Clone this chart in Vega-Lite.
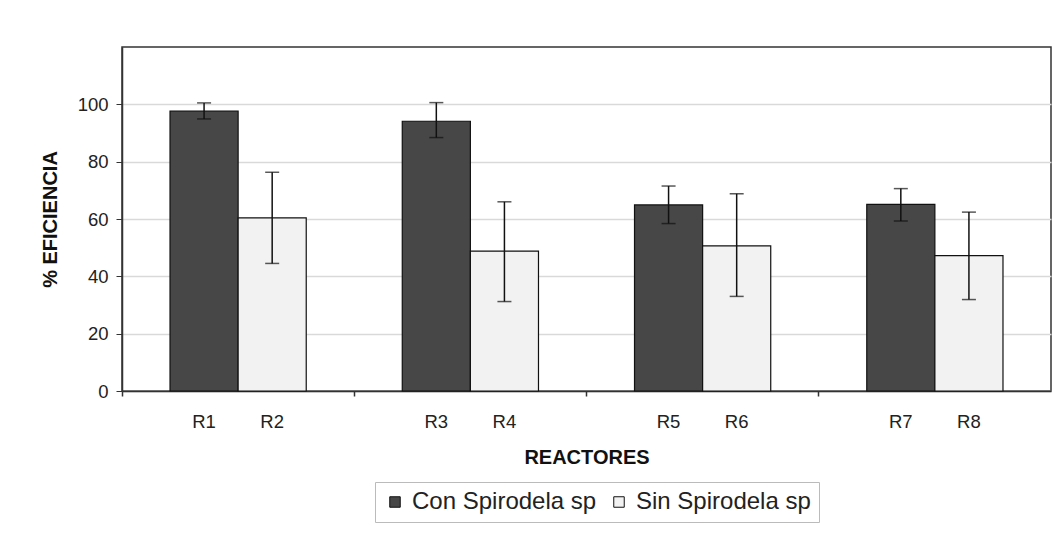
{
  "$schema": "https://vega.github.io/schema/vega-lite/v6.json",
  "width": 929,
  "height": 344,
  "autosize": {"type": "none"},
  "padding": {"left": 122, "top": 47, "right": 10, "bottom": 150},
  "background": "white",
  "config": {"font": "Liberation Sans", "view": {"stroke": "#333", "strokeWidth": 1.5}},
  "data": {
    "values": [
      {"reactor": "R1", "group": "G1", "serie": "Con Spirodela sp", "value": 97.6, "lo": 94.9, "hi": 100.5},
      {"reactor": "R2", "group": "G1", "serie": "Sin Spirodela sp", "value": 60.4, "lo": 44.5, "hi": 76.3},
      {"reactor": "R3", "group": "G2", "serie": "Con Spirodela sp", "value": 94.1, "lo": 88.4, "hi": 100.6},
      {"reactor": "R4", "group": "G2", "serie": "Sin Spirodela sp", "value": 48.8, "lo": 31.2, "hi": 66.0},
      {"reactor": "R5", "group": "G3", "serie": "Con Spirodela sp", "value": 64.9, "lo": 58.4, "hi": 71.5},
      {"reactor": "R6", "group": "G3", "serie": "Sin Spirodela sp", "value": 50.6, "lo": 33.0, "hi": 68.8},
      {"reactor": "R7", "group": "G4", "serie": "Con Spirodela sp", "value": 65.1, "lo": 59.3, "hi": 70.6},
      {"reactor": "R8", "group": "G4", "serie": "Sin Spirodela sp", "value": 47.2, "lo": 31.9, "hi": 62.4}
    ]
  },
  "encoding": {
    "x": {
      "field": "group", "type": "nominal",
      "scale": {"paddingInner": 0, "paddingOuter": 0},
      "axis": {"labels": false, "title": "REACTORES", "bandPosition": 0, "tickSize": 5, "tickColor": "#333", "tickWidth": 1.5, "domainColor": "#333", "domainWidth": 1.5, "titleFontSize": 20, "titleFontWeight": "bold", "titlePadding": 51, "titleColor": "#111", "grid": false}
    },
    "xOffset": {
      "field": "serie", "type": "nominal",
      "scale": {"domain": ["Con Spirodela sp", "Sin Spirodela sp"], "paddingInner": 0, "paddingOuter": 0.705}
    }
  },
  "layer": [
    {
      "mark": {"type": "bar", "stroke": "#111", "strokeWidth": 1.2},
      "encoding": {
        "y": {
          "field": "value", "type": "quantitative", "title": "% EFICIENCIA",
          "scale": {"domain": [0, 120], "nice": false},
          "axis": {"values": [0, 20, 40, 60, 80, 100], "grid": true, "gridColor": "#d9d9d9", "gridWidth": 1.5, "tickSize": 6, "tickColor": "#333", "domainColor": "#333", "domainWidth": 1.5, "labelFontSize": 18.5, "labelPadding": 8, "labelColor": "#222", "titleFontSize": 20, "titleFontWeight": "bold", "titlePadding": 17, "titleColor": "#111"}
        },
        "color": {
          "field": "serie", "type": "nominal",
          "scale": {"domain": ["Con Spirodela sp", "Sin Spirodela sp"], "range": ["#474747", "#f2f2f2"]},
          "legend": {"orient": "none", "legendX": 253, "legendY": 435, "direction": "horizontal", "columns": 2, "title": null, "labelFontSize": 24, "labelLimit": 400, "labelColor": "#222", "symbolType": "square", "symbolSize": 110, "symbolStrokeColor": "#111", "symbolStrokeWidth": 1, "labelOffset": 5, "columnPadding": 10, "padding": 8, "strokeColor": "#bbb", "fillColor": "white"}
        }
      }
    },
    {
      "mark": {"type": "rule", "color": "#111", "strokeWidth": 1.5},
      "encoding": {"y": {"field": "lo", "type": "quantitative", "title": "% EFICIENCIA"}, "y2": {"field": "hi"}}
    },
    {
      "mark": {"type": "tick", "color": "#111", "thickness": 1.5, "size": 14},
      "encoding": {"y": {"field": "lo", "type": "quantitative", "title": "% EFICIENCIA"}}
    },
    {
      "mark": {"type": "tick", "color": "#111", "thickness": 1.5, "size": 14},
      "encoding": {"y": {"field": "hi", "type": "quantitative", "title": "% EFICIENCIA"}}
    },
    {
      "mark": {"type": "text", "fontSize": 18.5, "color": "#222", "baseline": "middle"},
      "encoding": {"y": {"datum": -10.8, "type": "quantitative", "title": "% EFICIENCIA"}, "text": {"field": "reactor"}}
    }
  ]
}
